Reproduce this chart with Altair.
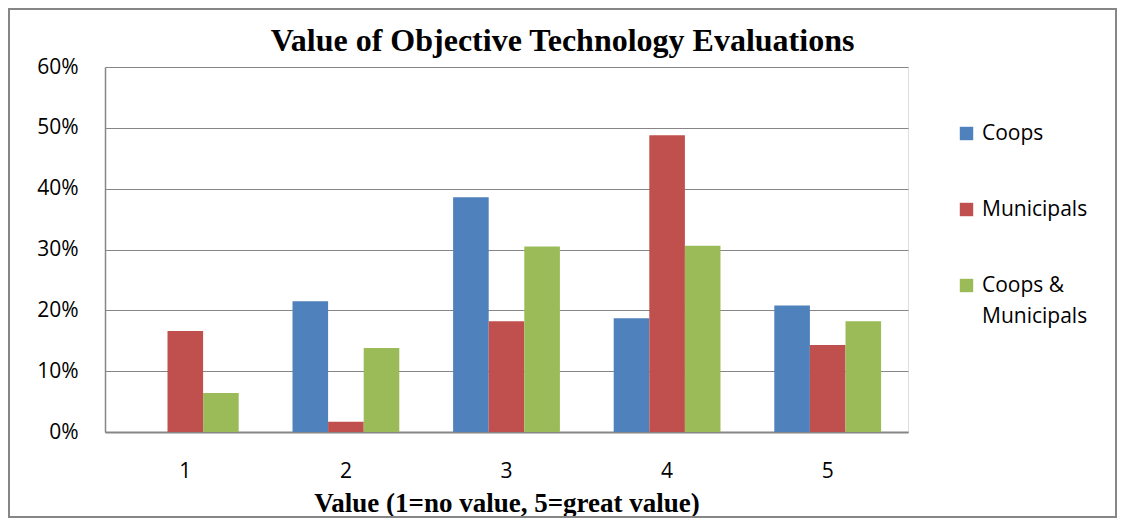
import altair as alt
import pandas as pd

categories = ["1", "2", "3", "4", "5"]
series_names = ["Coops", "Municipals", "Coops & Municipals"]
coops = [0.0, 21.5, 38.6, 18.7, 20.8]
municipals = [16.6, 1.7, 18.2, 48.8, 14.3]
combined = [6.4, 13.8, 30.5, 30.6, 18.2]
colors = ["#4F81BD", "#C0504D", "#9BBB59"]
y_ticks = [0, 0.1, 0.2, 0.3, 0.4, 0.5, 0.6]

rows = []
for name, vals in zip(series_names, [coops, municipals, combined]):
    for c, v in zip(categories, vals):
        rows.append({"cat": c, "series": name, "value": v / 100.0})
df = pd.DataFrame(rows)

label_font = "Open Sans"
serif = "Liberation Serif"

bars = alt.Chart(df).mark_bar().encode(
    x=alt.X("cat:N", sort=categories,
            scale=alt.Scale(paddingInner=0.335, paddingOuter=0.1675),
            axis=alt.Axis(title="Value (1=no value, 5=great value)", labelAngle=0,
                          labelFont=label_font, labelFontSize=21, labelColor="#000",
                          labelPadding=28, ticks=False, domainColor="#868686",
                          domainWidth=2, titleFont=serif, titleFontSize=27,
                          titleFontWeight="bold", titleColor="#000", titlePadding=9,
                          grid=False)),
    xOffset=alt.XOffset("series:N", sort=series_names),
    y=alt.Y("value:Q", scale=alt.Scale(domain=[0, 0.6]),
            axis=alt.Axis(title=None, values=y_ticks, format=".0%", labelFont=label_font,
                          labelFontSize=21, labelColor="#000", labelPadding=27,
                          ticks=False, domainColor="#868686", domainWidth=1.5,
                          gridColor="#868686", gridWidth=1.2)),
    color=alt.Color("series:N", sort=series_names,
                    scale=alt.Scale(domain=series_names, range=colors),
                    legend=alt.Legend(title=None, orient="none", legendX=851, legendY=56,
                                      symbolType="square", symbolSize=180,
                                      symbolStrokeWidth=0, labelFont=label_font,
                                      labelFontSize=21, labelColor="#000",
                                      rowPadding=54, labelOffset=5,
                                      labelExpr="datum.label == 'Coops & Municipals' ? ['Coops &', 'Municipals'] : datum.label")),
)

frame = alt.Chart(pd.DataFrame({"k": [0]})).mark_rect(
    fill=None, stroke="#868686", strokeWidth=2
).encode(x=alt.value(-96), x2=alt.value(1011), y=alt.value(-58), y2=alt.value(450))

chart = alt.layer(bars, frame).properties(
    width=803, height=365,
    title=alt.TitleParams("Value of Objective Technology Evaluations", font=serif,
                          fontSize=32, fontWeight="bold", color="#000",
                          anchor="middle", dx=56, dy=64, offset=14),
    autosize=alt.AutoSizeParams(type="none"),
    padding={"left": 97, "top": 59, "right": 209, "bottom": 86},
).configure_view(stroke=None).configure(
    style={"guide-label": {"lineHeight": 31}}
)

chart.save("out.html", embed_options={"renderer": "svg", "actions": False})
